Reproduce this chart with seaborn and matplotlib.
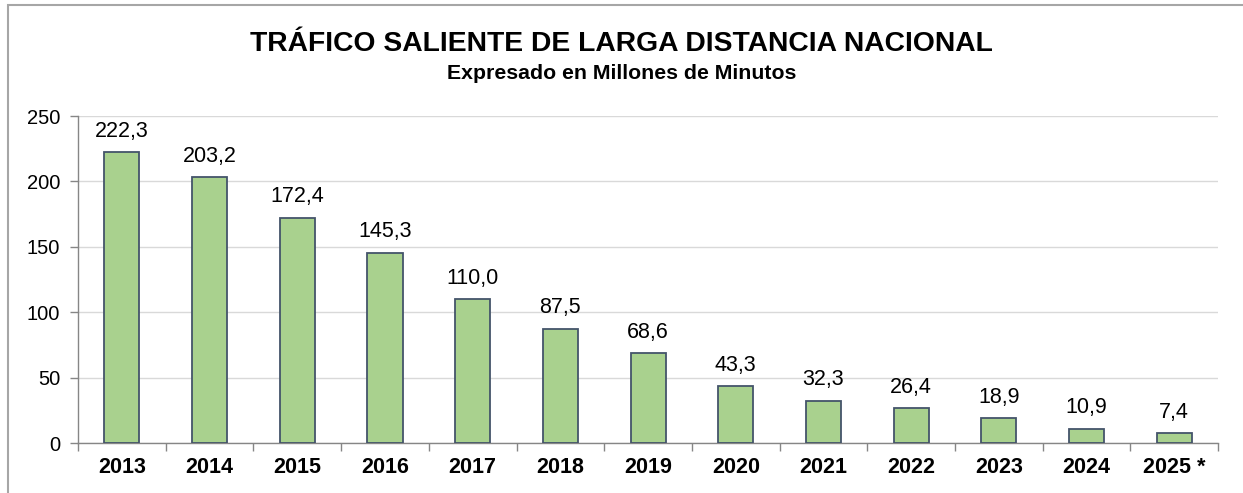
import matplotlib
matplotlib.use("Agg")
import matplotlib.pyplot as plt
import seaborn as sns
import pandas as pd
from matplotlib.patches import Rectangle

years = ["2013", "2014", "2015", "2016", "2017", "2018", "2019",
         "2020", "2021", "2022", "2023", "2024", "2025 *"]
minutes = [222.3, 203.2, 172.4, 145.3, 110.0, 87.5, 68.6,
           43.3, 32.3, 26.4, 18.9, 10.9, 7.4]
y_ticks = [0, 50, 100, 150, 200, 250]

sns.set_theme(style="white")
plt.rcParams["font.family"] = ["Liberation Sans", "DejaVu Sans"]
plt.rcParams["text.color"] = "black"
plt.rcParams["xtick.color"] = "black"
plt.rcParams["ytick.color"] = "black"

df = pd.DataFrame({"anio": years, "minutos": minutes})

fig = plt.figure(figsize=(12.43, 4.93), dpi=100)
ax = fig.add_axes([0.0628, 0.1014, 0.9172, 0.6633])

sns.barplot(data=df, x="anio", y="minutos", color="#A9D18E", width=0.4,
            saturation=1, edgecolor="#44546A", linewidth=1.3, ax=ax, zorder=3)

ax.set_ylim(0, 250)
ax.set_xlim(-0.5, len(years) - 0.5)
ax.set_yticks(y_ticks)
ax.yaxis.grid(True, color="#D9D9D9", linewidth=1, zorder=0)
ax.set_xlabel("")
ax.set_ylabel("")

for s in ["top", "right"]:
    ax.spines[s].set_visible(False)
for s in ["left", "bottom"]:
    ax.spines[s].set_color("#868686")
    ax.spines[s].set_linewidth(1)

ax.tick_params(axis="y", labelsize=14.5, labelcolor="black", length=6, width=1,
               direction="out", color="#868686", left=True, pad=7)
ax.tick_params(axis="x", length=0, labelsize=15.5, labelcolor="black", pad=10)
for lbl in ax.get_xticklabels():
    lbl.set_fontweight("bold")

# ticks between categories
ax.set_xticks([i + 0.5 for i in range(-1, len(years))], minor=True)
ax.tick_params(axis="x", which="minor", length=6, width=1, color="#868686",
               direction="out", bottom=True)

for i, v in enumerate(minutes):
    ax.text(i, v + 8, f"{v:.1f}".replace(".", ","), ha="center", va="bottom",
            fontsize=15.5, color="black")

fig.text(0.5, 0.91, "TRÁFICO SALIENTE DE LARGA DISTANCIA NACIONAL",
         ha="center", va="center", fontsize=20.3, fontweight="bold",
         color="black")
fig.text(0.5, 0.85, "Expresado en Millones de Minutos",
         ha="center", va="center", fontsize=15.3, fontweight="bold",
         color="black")

fig.patches.append(Rectangle((8 / 1243, -0.1), 1.2, 1 - 5 / 493 + 0.1,
                             transform=fig.transFigure, fill=False,
                             edgecolor="#A6A6A6", linewidth=1.5))

fig.savefig("out.png", dpi=100)
